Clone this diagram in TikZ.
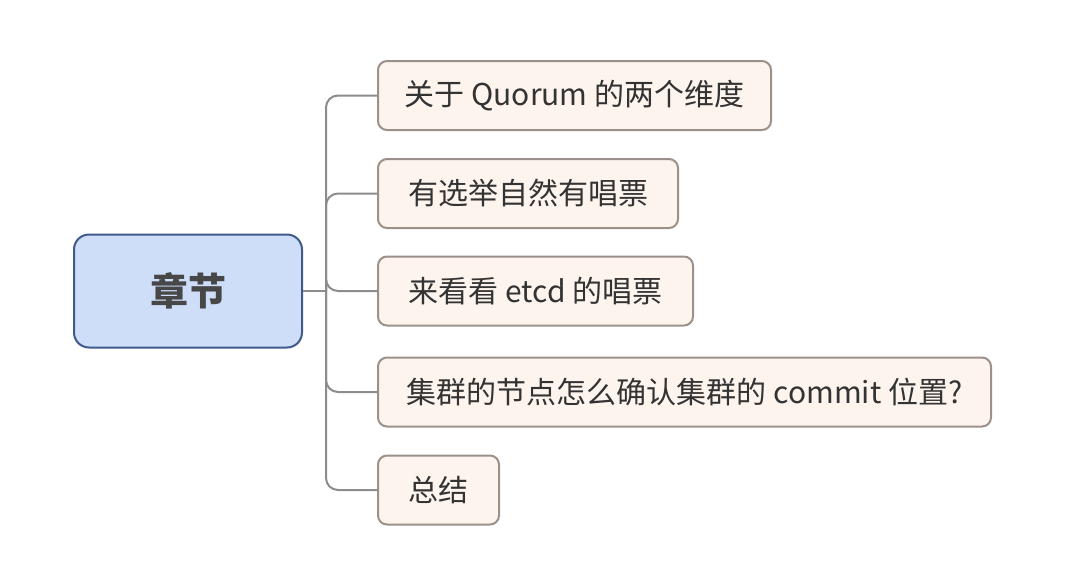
\documentclass[tikz,border=0pt]{standalone}
\usepackage{fontspec}
\setmainfont{Noto Sans CJK SC}
\usetikzlibrary{positioning, calc}
\definecolor{rootfill}{HTML}{CEDDF8}
\definecolor{rootborder}{HTML}{3F5B8C}
\definecolor{topicfill}{HTML}{FDF4EE}
\definecolor{topicborder}{HTML}{9C918A}
\definecolor{linkgray}{HTML}{8C8C8C}
\definecolor{textdark}{HTML}{333333}

\begin{document}
\begin{tikzpicture}[x=0.5pt, y=-0.5pt]
  % Node Styles
  \tikzset{
    rootbox/.style={draw=rootborder, fill=rootfill, rounded corners=7.5pt, line width=1pt,
      minimum width=114pt, minimum height=56.5pt, text=textdark!90, font=\fontsize{19}{22}\selectfont\bfseries},
    topicbox/.style={draw=topicborder, fill=topicfill, rounded corners=4.5pt, line width=1pt,
      anchor=west, minimum height=34.5pt, inner xsep=0pt, text=textdark, font=\fontsize{15}{18}\selectfont},
    link/.style={draw=linkgray, line width=1pt, rounded corners=6pt}
  }
  \useasboundingbox (0,0) rectangle (1080,585);

  % Central topic
  \node[rootbox] (root) at (188, 291) {章节};

  % Sub topics
  \node[topicbox, minimum width=196.5pt] (quorum) at (377, 95.5) {关于 Quorum 的两个维度};
  \node[topicbox, minimum width=150pt] (vote) at (377, 193.5) {有选举自然有唱票};
  \node[topicbox, minimum width=157.5pt] (etcd) at (377, 291) {来看看 etcd 的唱票};
  \node[topicbox, minimum width=306.5pt] (commit) at (377, 392) {集群的节点怎么确认集群的 commit 位置?};
  \node[topicbox, minimum width=60.5pt] (summary) at (377, 490) {总结};

  % Connectors
  \coordinate (trunk) at ($(root.east)+(23,0)$);
  \draw[draw=linkgray, line width=1pt] (root.east) -- (trunk);
  \foreach \child in {quorum, vote, etcd, commit, summary}
    \draw[link] (trunk) |- (\child.west);
\end{tikzpicture}
\end{document}
